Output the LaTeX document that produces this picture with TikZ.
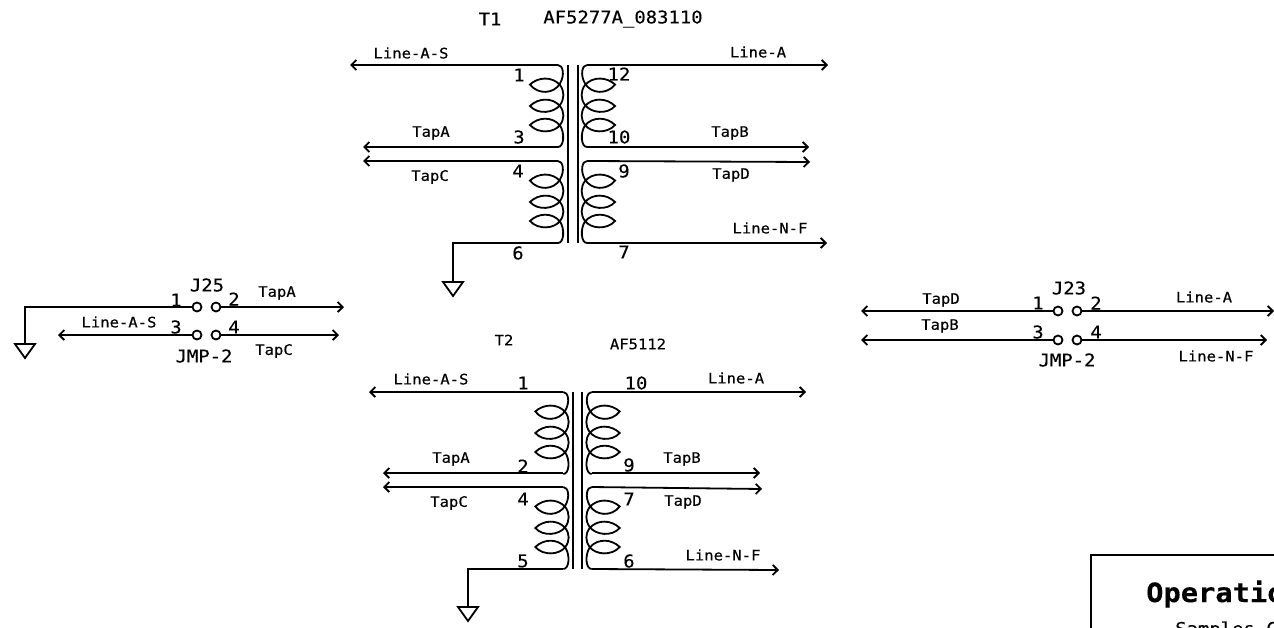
\documentclass[tikz,border=0pt]{standalone}
\usepackage{fontspec}
\usepackage{tikz}
\usetikzlibrary{arrows.meta}
\newfontfamily\cadfont[FakeStretch=1.08,FakeBold=0.25]{DejaVu Sans Mono}
\newcommand{\cadsmall}{\fontsize{14.4}{16}\cadfont}
\newcommand{\cadlarge}{\fontsize{17.5}{19}\cadfont}
\tikzset{
  wire/.style={line width=1.8pt},
  sig/.style={wire,-{Straight Barb[length=5pt,width=10pt]}},
  core/.style={line width=1.8pt},
  pin/.style={circle,draw,line width=1.8pt,inner sep=0pt,minimum size=9pt},
  sigtext/.style={inner sep=0pt,font=\cadsmall},
  num/.style={inner sep=0pt,font=\cadlarge},
  winding/.pic={
      \draw[wire] (0,0) .. controls (5,0) and (7,10) .. (2,18.5)
        .. controls (-4,29) and (-20,30) .. (-28,19.5)
        .. controls (-20,12) and (-6,11) .. (2,20)
        .. controls (6.5,26) and (6.5,34) .. (2,40)
        .. controls (-4,48) and (-20,50) .. (-28,41)
        .. controls (-20,33) and (-6,32) .. (2,41)
        .. controls (6.5,47) and (6.5,54) .. (2,60)
        .. controls (-4,68) and (-20,69) .. (-28,60)
        .. controls (-20,52) and (-6,51) .. (2,60.5)
        .. controls (7,68) and (6,82) .. (0,82);
    },
  gnd/.pic={
      \draw[wire] (-10,0) -- (10,0) -- (0,14) -- cycle;
    }
}

\begin{document}
\begin{tikzpicture}[x=1pt,y=-1pt]
      \clip (0,0) rectangle (1274,627);
      \fill[white] (0,0) rectangle (1274,627);

      \coordinate (t1a) at (558,65);
      \coordinate (t1b) at (558,147);
      \coordinate (t1c) at (558,161);
      \coordinate (t1d) at (558,243);
      \coordinate (t1e) at (587,65);
      \coordinate (t1f) at (587,147);
      \coordinate (t1g) at (587,161);
      \coordinate (t1h) at (587,243);
      \coordinate (t1core1a) at (568,65);
      \coordinate (t1core1b) at (568,243);
      \coordinate (t1core2a) at (577.7,65);
      \coordinate (t1core2b) at (577.7,243);
      \pic at (t1a) {winding};
      \pic at (t1c) {winding};
      \pic[xscale=-1] at (t1e) {winding};
      \pic[xscale=-1] at (t1g) {winding};
      \draw[core] (t1core1a) -- (t1core1b);
      \draw[core] (t1core2a) -- (t1core2b);
      \coordinate (t1las) at (350,65);
      \coordinate (t1tapa) at (363,147);
      \coordinate (t1tapc) at (363,161);
      \coordinate (t1la) at (828,65);
      \coordinate (t1tapb) at (809,147);
      \coordinate (t1tapd) at (810,162);
      \coordinate (t1lnf) at (827,243);
      \coordinate (t1gnd) at (453,282);
      \draw[sig] (t1a) -- (t1las);
      \draw[sig] (t1b) -- (t1tapa);
      \draw[sig] (t1c) -- (t1tapc);
      \draw[sig] (t1e) -- (t1la);
      \draw[sig] (t1f) -- (t1tapb);
      \draw[sig] (t1g) -- (t1tapd);
      \draw[sig] (t1h) -- (t1lnf);
      \draw[wire] (t1d) -| (t1gnd);
      \pic at (t1gnd) {gnd};

      \node[num] (t1ref) at (490,19) {T1};
      \node[num] (t1part) at (623,19) {AF5277A\_083110};
      \node[sigtext] (t1lasl) at (411,53) {Line-A-S};
      \node[sigtext] (t1lal) at (758,52) {Line-A};
      \node[sigtext] (t1tapal) at (431,133) {TapA};
      \node[sigtext] (t1tapbl) at (730,133) {TapB};
      \node[sigtext] (t1tapcl) at (430,177) {TapC};
      \node[sigtext] (t1tapdl) at (731,175) {TapD};
      \node[sigtext] (t1lnfl) at (770,228) {Line-N-F};
      \node[num] (t1n1) at (519,75) {1};
      \node[num] (t1n12) at (619,74) {12};
      \node[num] (t1n3) at (519,137) {3};
      \node[num] (t1n10) at (619,137) {10};
      \node[num] (t1n4) at (518,171) {4};
      \node[num] (t1n9) at (624,171) {9};
      \node[num] (t1n6) at (518,253) {6};
      \node[num] (t1n7) at (624,252) {7};

      \coordinate (t2a) at (563.3,392);
      \coordinate (t2b) at (563.3,473);
      \coordinate (t2c) at (563.3,487);
      \coordinate (t2d) at (563.3,569);
      \coordinate (t2e) at (591.7,392);
      \coordinate (t2f) at (591.7,473);
      \coordinate (t2g) at (591.7,487);
      \coordinate (t2h) at (591.7,569);
      \coordinate (t2core1a) at (572.7,392);
      \coordinate (t2core1b) at (572.7,569);
      \coordinate (t2core2a) at (582.3,392);
      \coordinate (t2core2b) at (582.3,569);
      \pic at (t2a) {winding};
      \pic at (t2c) {winding};
      \pic[xscale=-1] at (t2e) {winding};
      \pic[xscale=-1] at (t2g) {winding};
      \draw[core] (t2core1a) -- (t2core1b);
      \draw[core] (t2core2a) -- (t2core2b);
      \coordinate (t2las) at (369,392);
      \coordinate (t2tapa) at (383,473);
      \coordinate (t2tapc) at (383,487);
      \coordinate (t2la) at (806,392);
      \coordinate (t2tapb) at (760,473);
      \coordinate (t2tapd) at (762,489);
      \coordinate (t2lnf) at (779,570);
      \coordinate (t2gnd) at (468,607);
      \draw[sig] (t2a) -- (t2las);
      \draw[sig] (t2b) -- (t2tapa);
      \draw[sig] (t2c) -- (t2tapc);
      \draw[sig] (t2e) -- (t2la);
      \draw[sig] (t2f) -- (t2tapb);
      \draw[sig] (t2g) -- (t2tapd);
      \draw[sig] (t2h) -- (t2lnf);
      \draw[wire] (t2d) -| (t2gnd);
      \pic at (t2gnd) {gnd};

      \node[sigtext] (t2ref) at (504,340) {T2};
      \node[sigtext] (t2part) at (638,344) {AF5112};
      \node[sigtext] (t2lasl) at (431,379) {Line-A-S};
      \node[sigtext] (t2lal) at (736,378) {Line-A};
      \node[sigtext] (t2tapal) at (451,459) {TapA};
      \node[sigtext] (t2tapbl) at (682,459) {TapB};
      \node[sigtext] (t2tapcl) at (449,503) {TapC};
      \node[sigtext] (t2tapdl) at (683,502) {TapD};
      \node[sigtext] (t2lnfl) at (723,555) {Line-N-F};
      \node[num] (t2n1) at (523,383) {1};
      \node[num] (t2n10) at (636,383) {10};
      \node[num] (t2n2) at (523,466) {2};
      \node[num] (t2n9) at (629,465) {9};
      \node[num] (t2n4) at (523,499) {4};
      \node[num] (t2n7) at (629,499) {7};
      \node[num] (t2n5) at (523,561) {5};
      \node[num] (t2n6) at (629,561) {6};

      \node[pin] (j25p1) at (197,307) {};
      \node[pin] (j25p2) at (216,307) {};
      \node[pin] (j25p3) at (197,335) {};
      \node[pin] (j25p4) at (216,335) {};
      \coordinate (j25gnd) at (25,344);
      \coordinate (j25tapa) at (344,307);
      \coordinate (j25las) at (58,335);
      \coordinate (j25tapc) at (339,335);
      \draw[wire] (j25p1) -| (j25gnd);
      \draw[sig] (j25p2) -- (j25tapa);
      \draw[sig] (j25p3) -- (j25las);
      \draw[sig] (j25p4) -- (j25tapc);
      \pic at (j25gnd) {gnd};
      \node[num] (j25ref) at (207,285) {J25};
      \node[num] (j25part) at (204,356) {JMP-2};
      \node[num] (j25n1) at (176,300) {1};
      \node[num] (j25n2) at (234,299) {2};
      \node[num] (j25n3) at (176,327) {3};
      \node[num] (j25n4) at (234,327) {4};
      \node[sigtext] (j25tapal) at (277,293) {TapA};
      \node[sigtext] (j25lasl) at (119,322) {Line-A-S};
      \node[sigtext] (j25tapcl) at (274,351) {TapC};

      \node[pin] (j23p1) at (1058,311) {};
      \node[pin] (j23p2) at (1077,311) {};
      \node[pin] (j23p3) at (1058,340) {};
      \node[pin] (j23p4) at (1077,340) {};
      \coordinate (j23tapd) at (861,311);
      \coordinate (j23la) at (1274,311);
      \coordinate (j23tapb) at (861,340);
      \coordinate (j23lnf) at (1267,340);
      \draw[sig] (j23p1) -- (j23tapd);
      \draw[sig] (j23p2) -- (j23la);
      \draw[sig] (j23p3) -- (j23tapb);
      \draw[sig] (j23p4) -- (j23lnf);
      \node[num] (j23ref) at (1069,288) {J23};
      \node[num] (j23part) at (1067,360) {JMP-2};
      \node[num] (j23n1) at (1038,303) {1};
      \node[num] (j23n2) at (1096,303) {2};
      \node[num] (j23n3) at (1038,332) {3};
      \node[num] (j23n4) at (1096,332) {4};
      \node[sigtext] (j23tapdl) at (941,300) {TapD};
      \node[sigtext] (j23tapbl) at (940,326) {TapB};
      \node[sigtext] (j23lal) at (1204,297) {Line-A};
      \node[sigtext] (j23lnfl) at (1216,356) {Line-N-F};

      \draw[wire] (1300,555) -| (1091,640);
      \node[num,anchor=west,font=\fontsize{26.6}{28}\cadfont\bfseries] (optitle) at (1146,594) {Operation};
      \node[num,anchor=west] (opsub) at (1175,630) {Samples C};
    \end{tikzpicture}
\end{document}
